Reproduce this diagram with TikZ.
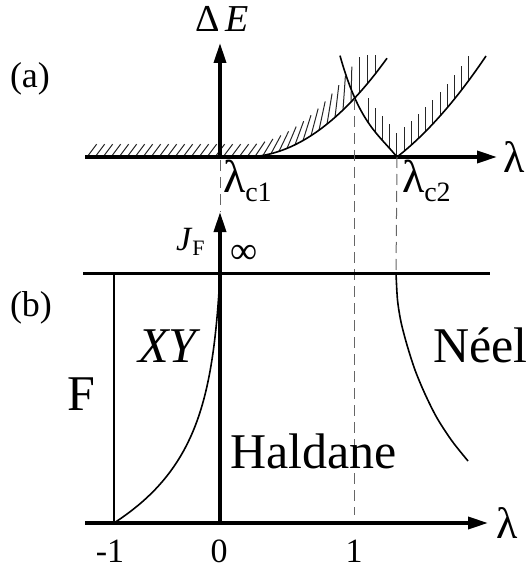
\documentclass[tikz,border=0pt]{standalone}
\usepackage{fontspec}
\setmainfont{Liberation Serif}
\usetikzlibrary{arrows.meta}
\begin{document}
\begin{tikzpicture}[x=1pt,y=-1pt,
  axisline/.style={line width=3.6pt,-{Triangle[length=20pt,width=12pt]}},
  boldline/.style={line width=3pt},
  thinline/.style={line width=1.6pt},
  curve/.style={line width=1.6pt},
  hatch/.style={line width=1pt,black!85},
  dashln/.style={line width=1pt,black!60,dash pattern=on 11pt off 6pt},
  lbl/.style={anchor=base west,inner sep=0pt,outer sep=0pt},
  lblc/.style={anchor=base,inner sep=0pt,outer sep=0pt}]
\useasboundingbox (0,0) rectangle (528,569);

% ---------- panel (a) ----------
\coordinate (a0) at (85,157);
\coordinate (a1) at (497,157);
\coordinate (e0) at (220,157);
\coordinate (e1) at (220,43);
\coordinate (cross) at (354,99);
\coordinate (vtx) at (397,157);

% hatches
\begin{scope}
\clip (0,56) rectangle (528,157);
\foreach \x in {87,95,...,375} {
  \pgfmathsetmacro{\yb}{\x<245 ? 157 : 157-0.0049*(\x-245)*(\x-245)}
  \pgfmathsetmacro{\tt}{min(1,max(0,(\x-245)/110))}
  \pgfmathsetmacro{\th}{37*(1-\tt)}
  \pgfmathsetmacro{\LL}{16+20*\tt}
  \draw[hatch] (\x,\yb) -- ++({\LL*sin(\th)},{-\LL*cos(\th)});
}
\foreach \i in {0,...,14} {
  \pgfmathsetmacro{\xx}{368+7.2*\i}
  \pgfmathsetmacro{\uu}{abs(\xx-397)}
  \pgfmathsetmacro{\ya}{157-(1.2315*\uu-0.01216*\uu*\uu+0.000374*\uu*\uu*\uu)}
  \pgfmathsetmacro{\yc}{157-(0.782*\uu+0.00396*\uu*\uu)}
  \pgfmathsetmacro{\yb}{\xx<397 ? \ya : \yc}
  \draw[hatch] (\xx,\yb) -- ++(0,-24);
}
\end{scope}

% curves
\draw[curve] plot[domain=245:387,samples=50] (\x,{157-0.0049*(\x-245)*(\x-245)});
\draw[curve] plot[domain=340:397,samples=50] (\x,{157-(1.2315*(397-\x)-0.01216*(397-\x)*(397-\x)+0.000374*(397-\x)*(397-\x)*(397-\x))});
\draw[curve] plot[domain=397:486,samples=50] (\x,{157-(0.782*(\x-397)+0.00396*(\x-397)*(\x-397))});

% axes (a)
\draw[axisline] (a0) -- (a1);
\draw[axisline] (e0) -- (e1);

% ---------- panel (b) ----------
\coordinate (b0) at (85,523);
\coordinate (b1) at (488,523);
\coordinate (j0) at (220,523);
\coordinate (j1) at (220,212);
\coordinate (t0) at (83,273);
\coordinate (t1) at (490,273);
\coordinate (m0) at (114,273);
\coordinate (m1) at (114,523);
\coordinate (d0) at (220,160);
\coordinate (d1end) at (354,515);
\coordinate (d2end) at (396,273);

% dashed lines
\draw[dashln] (d0) -- (j1);
\draw[dashln] (cross) -- (d1end);
\draw[dashln] (vtx) -- (d2end);

\draw[boldline] (t0) -- (t1);
\draw[thinline] (m0) -- (m1);
\draw[curve] plot[domain=523:273,samples=60] ({220-106*exp(-0.0145*(523-\x))+2.9*(523-\x)/250},\x);
\draw[curve] plot[smooth] coordinates {(396,273) (397.5,300) (401,322) (407,345) (415,370) (425,394) (437,418) (452,441) (468,461)};
\draw[axisline] (b0) -- (b1);
\draw[axisline] (j0) -- (j1);

% ---------- labels ----------
\node[lbl] (la) at (10,88) {\fontsize{36}{36}\selectfont (a)};
\node[lbl] (lb) at (10,316) {\fontsize{36}{36}\selectfont (b)};
\node[lbl] (dE) at (195,32) {\fontsize{38}{38}\selectfont Δ\,\textit{E}};
\node[lbl] (lamA) at (503,173) {\fontsize{44}{44}\selectfont λ};
\node[lbl] (lamB) at (496,538) {\fontsize{44}{44}\selectfont λ};
\node[lbl] (lc1) at (223,193) {\fontsize{46}{46}\selectfont λ\raisebox{-9pt}{\fontsize{28}{28}\selectfont c1}};
\node[lbl] (lc2) at (402,193) {\fontsize{46}{46}\selectfont λ\raisebox{-9pt}{\fontsize{28}{28}\selectfont c2}};
\node[lbl] (JF) at (176,250) {\fontsize{34}{34}\selectfont \textit{J}\raisebox{-5pt}{\fontsize{22}{22}\selectfont F}};
\node[lbl] (inf) at (230,263) {\fontsize{38}{38}\selectfont ∞};
\node[anchor=base east,inner sep=0pt,outer sep=0pt] (XY) at (201,362) {\fontsize{50}{50}\selectfont \textit{XY}};
\node[lbl] (neel) at (433,362) {\fontsize{50}{50}\selectfont Néel};
\node[lbl] (hal) at (230,468) {\fontsize{50}{50}\selectfont Haldane};
\node[lbl] (F) at (67,410) {\fontsize{50}{50}\selectfont F};
\node[lblc] (nm1) at (110,562) {\fontsize{34}{34}\selectfont -1};
\node[lblc] (n0) at (219,562) {\fontsize{34}{34}\selectfont 0};
\node[lblc] (n1) at (354,562) {\fontsize{34}{34}\selectfont 1};
\end{tikzpicture}
\end{document}
